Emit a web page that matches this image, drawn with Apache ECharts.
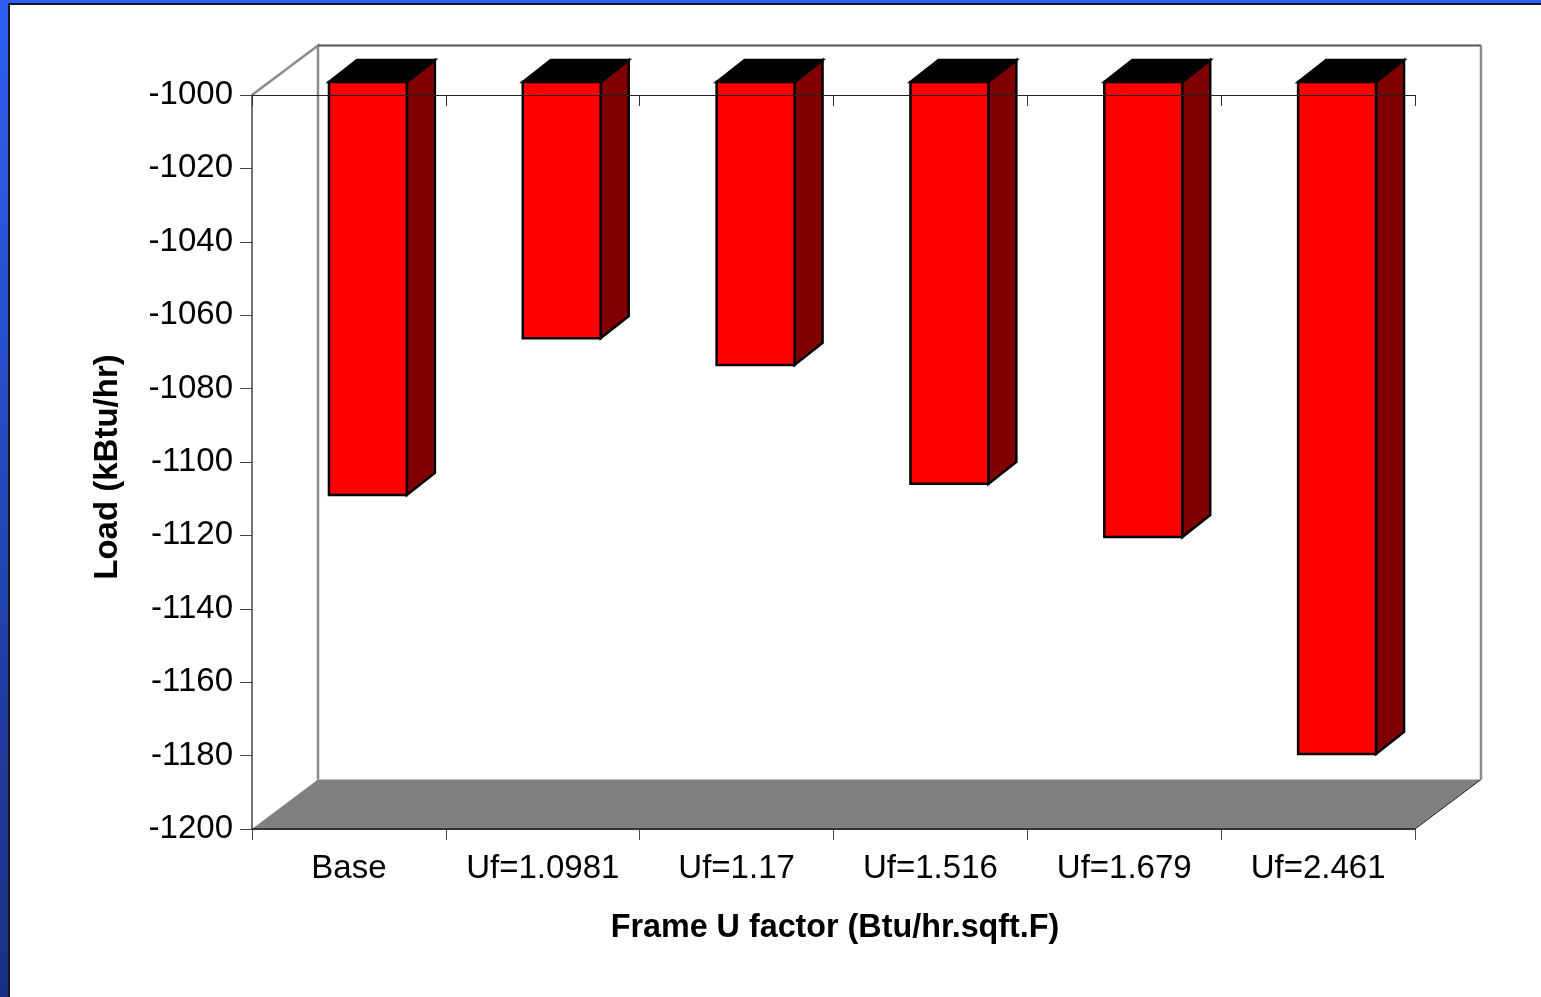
<!DOCTYPE html>
<html>
<head>
<meta charset="utf-8">
<style>html,body{margin:0;padding:0;background:#fff}#c{width:1541px;height:997px}</style>
<script src="https://cdn.jsdelivr.net/npm/echarts@6/dist/echarts.min.js"></script>
</head>
<body>
<div id="c"></div>
<script>
const categories = ['Base', 'Uf=1.0981', 'Uf=1.17', 'Uf=1.516', 'Uf=1.679', 'Uf=2.461'];
const loads = [-1112.5, -1069.8, -1077.1, -1109.5, -1124, -1183.1];
const yTitle = 'Load (kBtu/hr)';
const xTitle = 'Frame U factor (Btu/hr.sqft.F)';

const wallDepth = [66, -49.5];
const barShift = [19, -13];
const barDepth = [28, -22];
const barRatio = 0.402;

const chart = echarts.init(document.getElementById('c'), null, {renderer: 'canvas'});

function renderWalls(params, api) {
  const c = params.coordSys;
  const L = c.x, R = c.x + c.width, T = c.y, B = c.y + c.height;
  const dx = wallDepth[0], dy = wallDepth[1];
  return {type: 'group', children: [
    {type: 'polygon', shape: {points: [[L, B], [L + dx, B + dy], [R + dx, B + dy], [R, B]]},
      style: {fill: '#808080', stroke: null}},
    {type: 'polyline', shape: {points: [[L, T], [L + dx, T + dy], [L + dx, B + dy]]},
      style: {fill: null, stroke: '#8c8c8c', lineWidth: 2.5}},
    {type: 'line', shape: {x1: R + dx, y1: T + dy, x2: R + dx, y2: B + dy},
      style: {stroke: '#8c8c8c', lineWidth: 2.5}},
    {type: 'line', shape: {x1: L + dx, y1: T + dy, x2: R + dx, y2: T + dy},
      style: {stroke: '#555555', lineWidth: 2}},
    {type: 'line', shape: {x1: R, y1: B, x2: R + dx, y2: B + dy},
      style: {stroke: '#222222', lineWidth: 1}}
  ]};
}

function renderBar(params, api) {
  const i = api.value(0), v = api.value(1);
  const w = api.size([1, 0])[0] * barRatio;
  const top = api.coord([i, -1000]);
  const bot = api.coord([i, v]);
  const x0 = top[0] + barShift[0] - w / 2, x1 = x0 + w;
  const y0 = top[1] + barShift[1], y1 = bot[1] + barShift[1];
  const dx = barDepth[0], dy = barDepth[1];
  const edge = {stroke: '#000', lineWidth: 2.5, lineJoin: 'miter'};
  return {type: 'group', children: [
    {type: 'polygon', shape: {points: [[x1, y0], [x1 + dx, y0 + dy], [x1 + dx, y1 + dy], [x1, y1]]},
      style: Object.assign({fill: '#800000'}, edge)},
    {type: 'polygon', shape: {points: [[x0, y0], [x0 + dx, y0 + dy], [x1 + dx, y0 + dy], [x1, y0]]},
      style: Object.assign({fill: '#000000'}, edge)},
    {type: 'rect', shape: {x: x0, y: y0, width: w, height: y1 - y0},
      style: Object.assign({fill: '#ff0000'}, edge)}
  ]};
}

const font = '"Liberation Sans", Arial, sans-serif';
chart.setOption({
  animation: false,
  backgroundColor: '#ffffff',
  graphic: [
    {type: 'rect', silent: true, shape: {x: 0, y: 0, width: 1541, height: 5}, style: {fill: '#15152a'}},
    {type: 'rect', silent: true, shape: {x: 0, y: 0, width: 10, height: 997}, style: {fill: '#15152a'}},
    {type: 'rect', silent: true, shape: {x: 0, y: 0, width: 1541, height: 3}, style: {fill: '#2f5ff2'}},
    {type: 'rect', silent: true, shape: {x: 0, y: 0, width: 8, height: 997}, style: {
      fill: new echarts.graphic.LinearGradient(0, 0, 0, 1, [
        {offset: 0, color: '#2f5ff2'}, {offset: 1, color: '#1a2f80'}
      ])}}
  ],
  grid: {left: 252, right: 126, top: 95, bottom: 168},
  xAxis: [
    {type: 'category', data: categories, position: 'bottom', z: 6,
      name: xTitle, nameLocation: 'middle', nameGap: 83,
      nameTextStyle: {fontFamily: font, fontSize: 32.3, fontWeight: 'bold', color: '#000', padding: [0, 0, 0, 3]},
      axisLine: {show: true, onZero: false, lineStyle: {color: '#333', width: 2}},
      axisTick: {show: true, length: 11, alignWithLabel: false, lineStyle: {color: '#444', width: 1}},
      axisLabel: {fontFamily: font, fontSize: 33, color: '#000', margin: 23, interval: 0},
      splitLine: {show: false}},
    {type: 'category', data: categories, position: 'top', z: 6,
      axisLine: {show: true, onZero: false, lineStyle: {color: '#222', width: 1}},
      axisTick: {show: true, inside: true, length: 11, lineStyle: {color: '#333', width: 1}},
      axisLabel: {show: false},
      splitLine: {show: false}}
  ],
  yAxis: {
    type: 'value', min: -1200, max: -1000, interval: 20, z: 6,
    name: yTitle, nameLocation: 'middle', nameGap: 128,
    nameTextStyle: {fontFamily: font, fontSize: 33, fontWeight: 'bold', color: '#000', padding: [0, 10, 0, 0]},
    axisLine: {show: true, onZero: false, lineStyle: {color: '#444', width: 1.5}},
    axisTick: {show: true, length: 12, lineStyle: {color: '#444', width: 1}},
    axisLabel: {fontFamily: font, fontSize: 33, color: '#000', margin: 19, padding: [0, 0, 5, 0], formatter: v => String(v)},
    splitLine: {show: false}
  },
  series: [
    {type: 'custom', name: 'walls', z: 1, silent: true, renderItem: renderWalls, data: [[0, -1000]],
      encode: {x: 0, y: 1}},
    {type: 'custom', name: 'Load', z: 3, silent: true, renderItem: renderBar,
      data: loads.map((v, i) => [i, v]), encode: {x: 0, y: 1}}
  ]
});
</script>
</body>
</html>
